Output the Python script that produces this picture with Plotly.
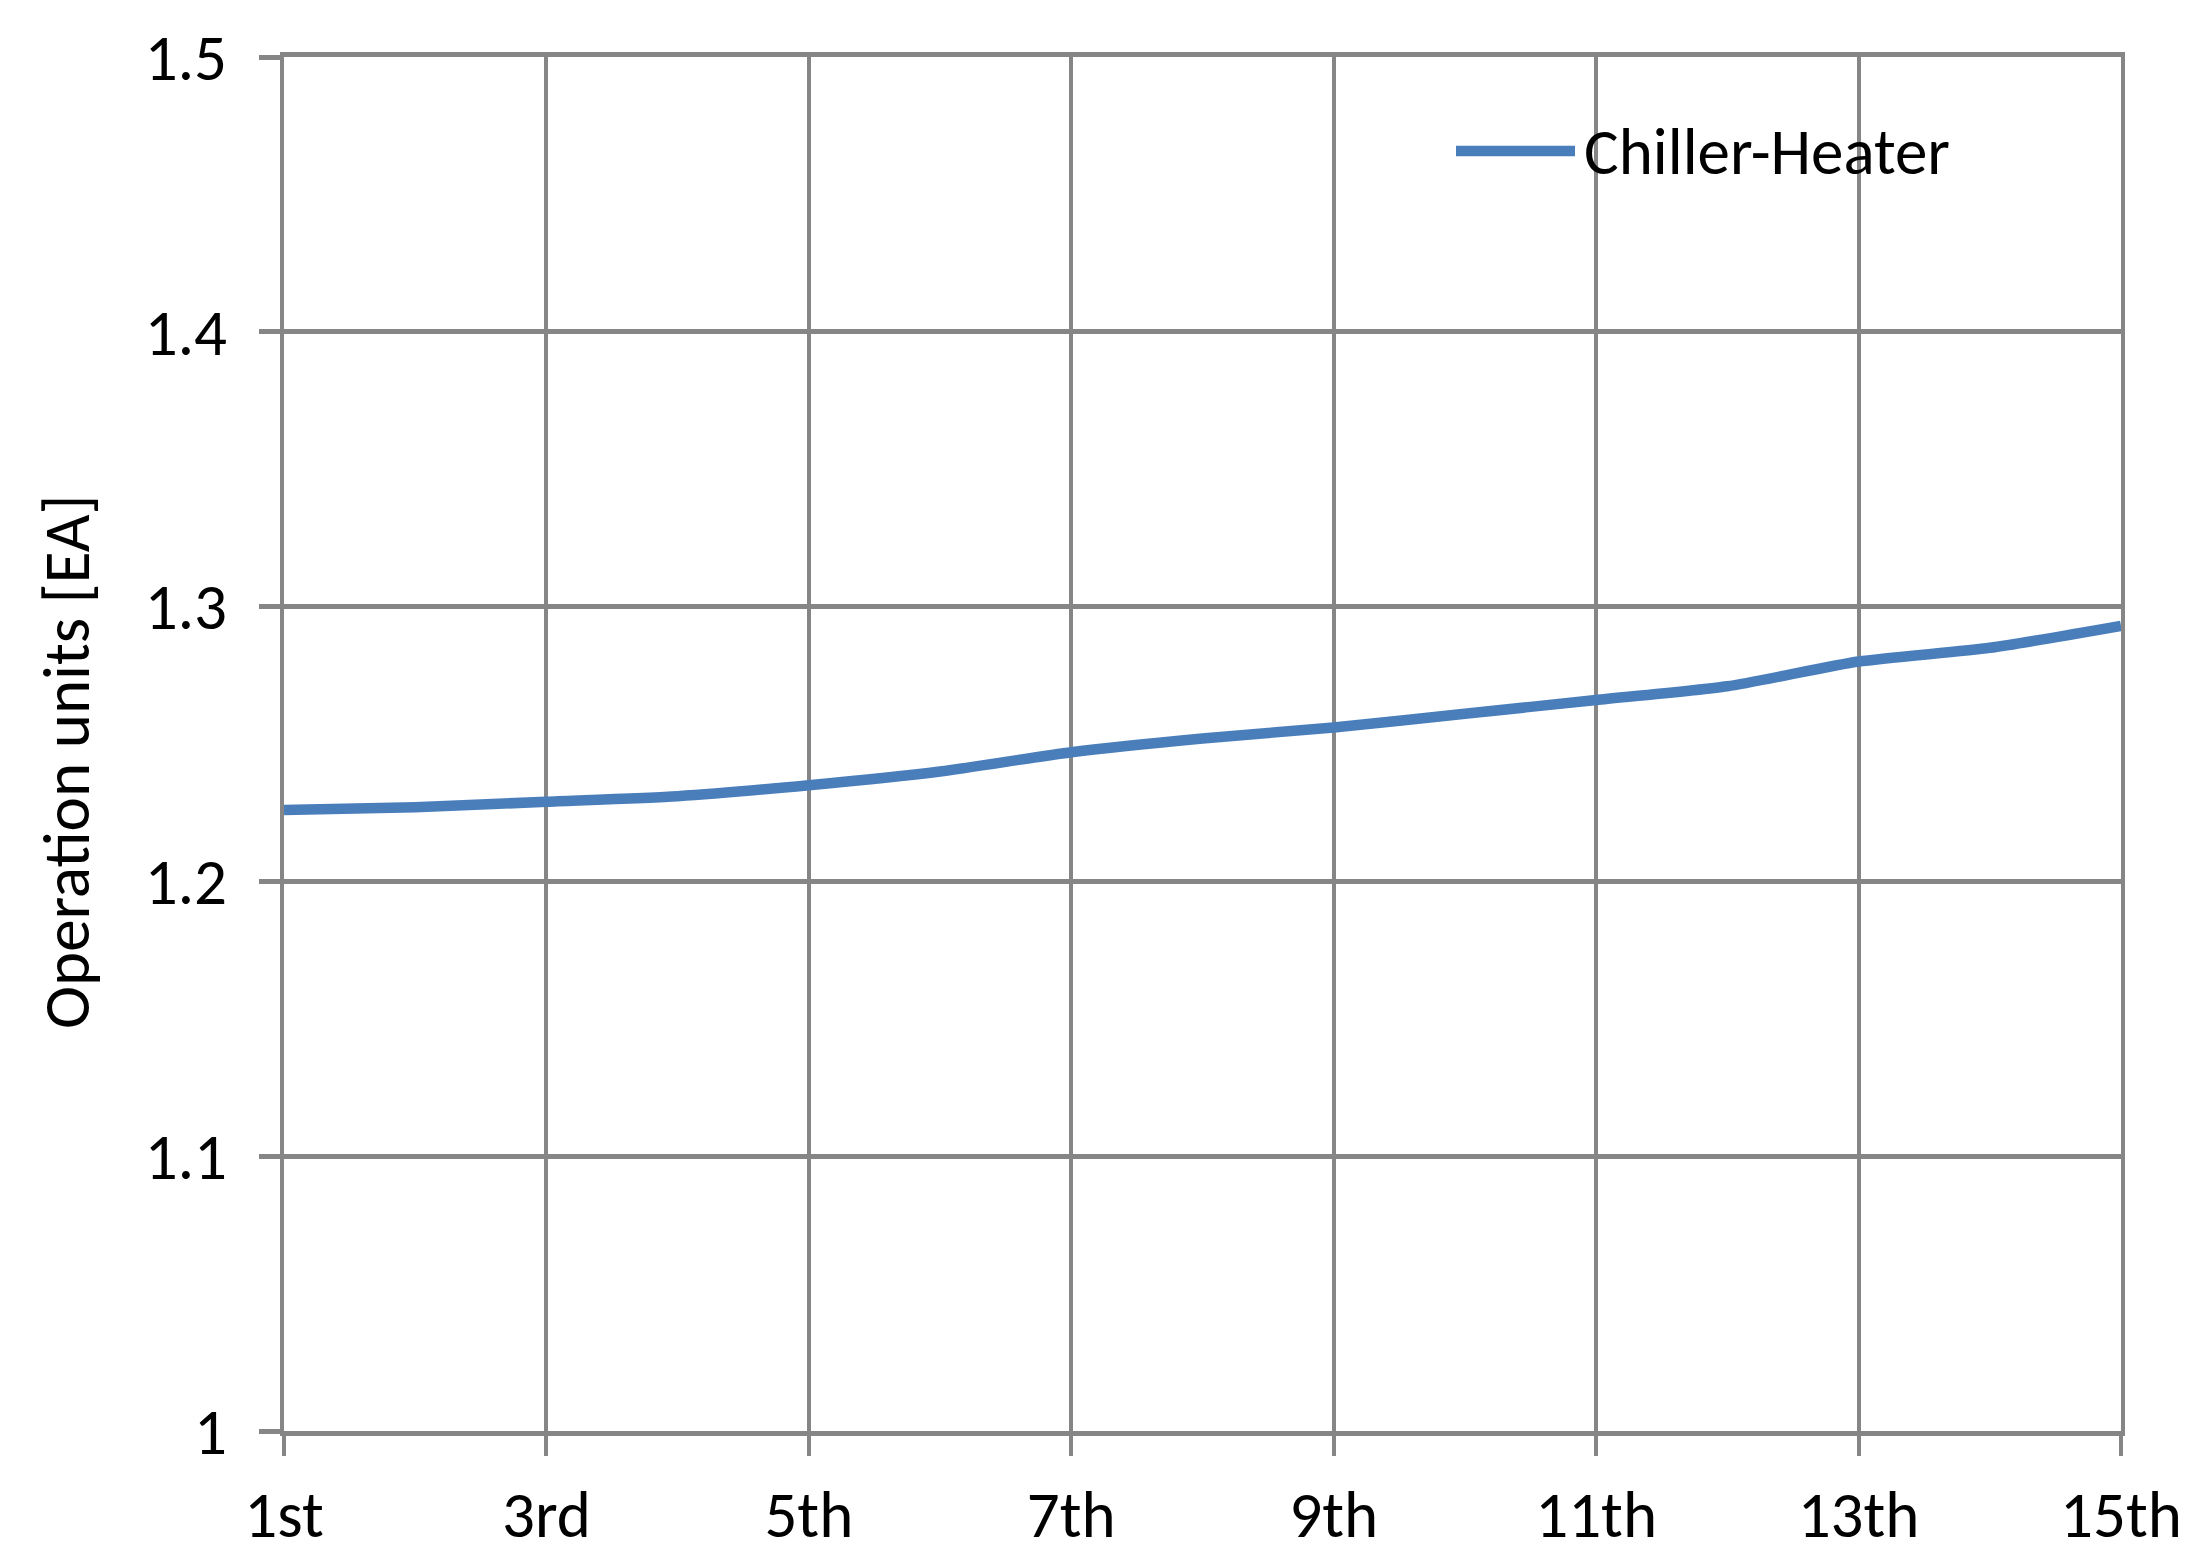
import plotly.graph_objects as go

categories = ["1st", "2nd", "3rd", "4th", "5th", "6th", "7th", "8th",
              "9th", "10th", "11th", "12th", "13th", "14th", "15th"]
chiller_heater = [1.226, 1.227, 1.229, 1.231, 1.235, 1.240, 1.247, 1.252,
                  1.256, 1.261, 1.266, 1.271, 1.280, 1.285, 1.293]
x_tick_labels = ["1st", "3rd", "5th", "7th", "9th", "11th", "13th", "15th"]
y_tick_values = [1.0, 1.1, 1.2, 1.3, 1.4, 1.5]
y_tick_labels = ["1", "1.1", "1.2", "1.3", "1.4", "1.5"]
series_name = "Chiller-Heater"
y_title = "Operation units [EA]"

FONT = "Carlito, 'Liberation Sans Narrow', 'DejaVu Sans Condensed', sans-serif"
LINE_COLOR = "#4A7EBB"
GRID = "#868686"
FS = 65

# page body has an 8px margin on every side, so the figure is sized to fit
W, H = 2179, 1551
ML, MR, MT, MB = 276, 66, 49, 128
PW, PH = W - ML - MR, H - MT - MB

fig = go.Figure()
fig.add_trace(go.Scatter(
    x=categories, y=chiller_heater, mode="lines", name=series_name,
    line=dict(color=LINE_COLOR, width=10.5, shape="spline", smoothing=0.6),
    showlegend=False,
))

# manual legend (sample line + label), positioned in plot-area fractions
leg_y = 1 - (151 - 57) / PH
fig.add_shape(type="line", xref="paper", yref="paper",
              x0=(1456 - 284) / PW, x1=(1575 - 284) / PW,
              y0=leg_y, y1=leg_y,
              line=dict(color=LINE_COLOR, width=10.5))
fig.add_annotation(text=series_name, xref="paper", yref="paper",
                   x=(1582 - 284) / PW, y=leg_y,
                   xanchor="left", yanchor="middle", showarrow=False,
                   font=dict(family=FONT, size=FS, color="#000000"))

# y-axis title as a rotated annotation (placed like the reference)
fig.add_annotation(text=y_title, xref="paper", yref="paper",
                   x=(66 - 284) / PW, y=1 - (762 - 57) / PH,
                   xanchor="center", yanchor="middle", textangle=-90,
                   showarrow=False,
                   font=dict(family=FONT, size=FS, color="#000000"))

fig.update_layout(
    width=W, height=H,
    margin=dict(l=ML, r=MR, t=MT, b=MB, autoexpand=False),
    paper_bgcolor="white", plot_bgcolor="white",
    font=dict(family=FONT, size=FS, color="#000000"),
    xaxis=dict(
        type="category", categoryorder="array", categoryarray=categories,
        range=[0, len(categories) - 1], automargin=False,
        tickmode="array", tickvals=x_tick_labels, ticktext=x_tick_labels,
        showgrid=True, gridcolor=GRID, gridwidth=4,
        ticks="outside", ticklen=20, tickwidth=4, tickcolor=GRID,
        ticklabelstandoff=3,
        showline=True, linecolor=GRID, linewidth=5, mirror=True,
        zeroline=False,
        tickfont=dict(family=FONT, size=FS),
    ),
    yaxis=dict(
        range=[1.0, 1.5], automargin=False,
        tickmode="array", tickvals=y_tick_values, ticktext=y_tick_labels,
        showgrid=True, gridcolor=GRID, gridwidth=5,
        ticks="outside", ticklen=21, tickwidth=5, tickcolor=GRID,
        ticklabelstandoff=19,
        showline=True, linecolor=GRID, linewidth=4, mirror=True,
        zeroline=False,
        tickfont=dict(family=FONT, size=FS),
    ),
)

fig.write_html("out.html")
